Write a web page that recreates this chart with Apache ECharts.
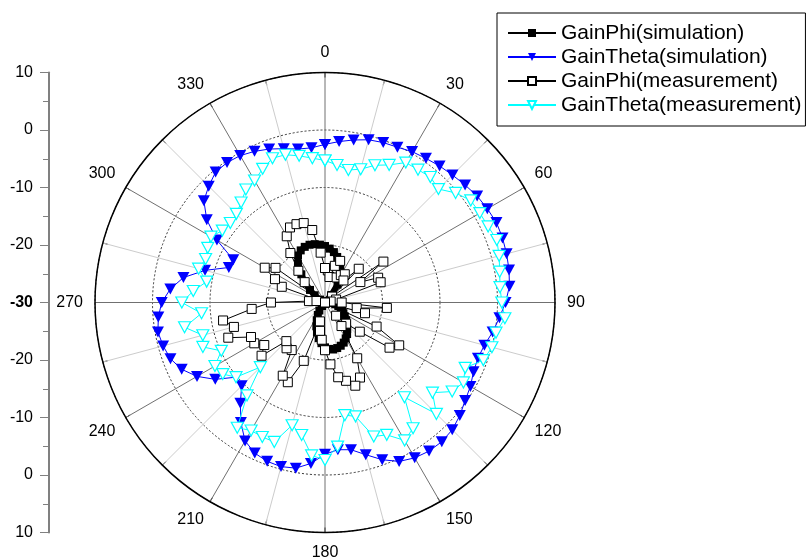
<!DOCTYPE html>
<html>
<head>
<meta charset="utf-8">
<script src="https://cdn.jsdelivr.net/npm/echarts/dist/echarts.min.js"></script>
<style>
html,body{margin:0;padding:0;background:#fff;}
#chart{width:812px;height:560px;}
</style>
</head>
<body>
<div id="chart"></div>
<script>
// angles (degrees), 5 degree steps
const angles = [0,5,10,15,20,25,30,35,40,45,50,55,60,65,70,75,80,85,90,95,100,105,110,115,120,125,130,135,140,145,150,155,160,165,170,175,180,185,190,195,200,205,210,215,220,225,230,235,240,245,250,255,260,265,270,275,280,285,290,295,300,305,310,315,320,325,330,335,340,345,350,355];

const seriesNames = ['GainPhi(simulation)','GainTheta(simulation)','GainPhi(measurement)','GainTheta(measurement)'];

const gainPhiSim = [-20.2,-20.6,-21.1,-21.8,-22.6,-23.7,-24.8,-26.2,-28.3,-30,-30,-30,-30,-30,-30,-30,-30,-30,-30,-29.5,-28.2,-27.6,-27.1,-26.7,-26.3,-25.8,-25.2,-24.6,-24.0,-23.3,-22.8,-22.3,-22.0,-21.8,-21.7,-21.9,-22.2,-22.9,-23.7,-24.6,-25.6,-26.6,-27.5,-28.3,-29.2,-30,-30,-30,-30,-30,-30,-30,-30,-30,-30,-30,-30,-30,-30,-30,-29.0,-27.8,-26.6,-25.0,-23.6,-21.8,-20.6,-20.0,-19.7,-19.6,-19.7,-19.9];

const gainThetaSim = [-2.5,-1.9,-1.3,-0.7,-0.4,-0.2,0.3,0.6,1.0,1.35,1.8,2.3,2.6,2.9,2.85,2.7,2.5,2.2,1.4,0.45,-0.4,-1.3,-1.7,-1.5,-0.8,-0.25,0.6,1.3,1.6,1.55,1.2,0.5,-0.9,-2.6,-4.0,-4.3,-3.6,-1.9,-0.75,-0.45,-0.6,-1.1,-2.2,-4.5,-7.1,-9.5,-9.8,-6.7,-4.3,-2.5,-1.4,-0.85,-0.5,-0.9,-1.6,-3.0,-5.0,-8.4,-12.2,-12.4,-8.3,-4.9,-2.5,-1.4,-0.4,-0.3,-0.5,-1.0,-1.6,-2.3,-2.9,-3.0];

const gainPhiMeas = [-24.0,-24.4,-25.5,-23.4,-22.3,-25.2,-24.5,-24.0,-25.0,-21.7,-28.4,-17.6,-22.9,-19.8,-19.7,-28.0,-29.0,-30,-27.1,-19.2,-24.4,-22.8,-30,-20.1,-15.1,-16.3,-22.1,-24.8,-27.0,-25.0,-18.8,-15.6,-14.6,-15.9,-16.8,-19.2,-21.7,-23.5,-25.0,-26.6,-19.2,-14.7,-15.3,-19.9,-19.6,-20.5,-15.6,-17.1,-15.8,-15.8,-12.1,-13.6,-12.0,-17.2,-20.6,-27.2,-28.5,-30,-22.0,-20.4,-17.9,-19.5,-30,-25.0,-22.8,-19.5,-16.7,-15.6,-15.5,-15.7,-17.2,-21.3];

const gainThetaMeas = [-5.3,-6.0,-6.6,-6.0,-4.6,-3.6,-1.9,-1.8,-1.5,-2.1,-0.35,0.95,1.1,1.3,1.8,1.35,0.85,0.55,0.75,1.4,0.2,0.05,-0.7,-3.1,-2.2,-3.0,-5.6,-2.6,-8.5,-3.3,-2.3,-4.6,-5.2,-9.5,-10.1,-4.85,-2.6,-3.3,-6.6,-7.9,-4.2,-4.2,-4.3,-3.4,-8.9,-14.1,-9.8,-8.3,-7.9,-10.1,-7.4,-8.0,-5.2,-8.45,-5.1,-7.0,-9.1,-7.25,-7.9,-7.5,-7.1,-8.2,-8.5,-8.2,-7.3,-6.0,-5.5,-4.35,-3.3,-3.4,-4.1,-4.8];

// tick labels
const angleLabels = [0,30,60,90,120,150,180,210,240,270,300,330];
const radiusTicks = [-30,-20,-10,0,10];
const leftAxisLabels = [10,0,-10,-20,-30,-20,-10,0,10];

function toPolar(vals){
  const d = angles.map((a,i)=>[vals[i], a]);
  d.push([vals[0], 360]);
  return d;
}

const chart = echarts.init(document.getElementById('chart'), null, {renderer:'canvas'});
const rMin = radiusTicks[0], rMax = radiusTicks[radiusTicks.length-1];

const option = {
  animation:false,
  backgroundColor:'#fff',
  textStyle:{fontFamily:'Liberation Sans, Arial, sans-serif'},
  legend:{
    orient:'vertical',
    left:497, top:13,
    data:seriesNames,
    itemWidth:48, itemHeight:10, itemGap:0,
    padding:[8,4,9,10],
    borderColor:'#000', borderWidth:1,
    textStyle:{fontSize:21, color:'#000', lineHeight:24, fontFamily:'Liberation Sans, Arial, sans-serif'},
    selectedMode:false
  },
  polar:{center:[325,302.5], radius:230},
  angleAxis:{
    type:'value', min:0, max:360, interval:15,
    startAngle:90, clockwise:true,
    axisLine:{show:true, lineStyle:{color:'#000', width:1.5}},
    axisTick:{show:true, inside:true, length:5, lineStyle:{color:'#000', width:1}},
    axisLabel:{
      show:true, margin:12, fontSize:16, color:'#000',
      formatter:function(v){ return (angleLabels.indexOf(v) >= 0) ? String(v) : ''; }
    },
    splitLine:{show:true, lineStyle:{color:['#707070','#cccccc'], width:1}}
  },
  radiusAxis:{
    type:'value', min:rMin, max:rMax, interval:10,
    axisLine:{show:false}, axisTick:{show:false}, axisLabel:{show:false},
    splitLine:{show:true, lineStyle:{color:'#333', width:1, type:[2,2]}}
  },
  grid:{left:49, top:72.5, width:1, height:460},
  xAxis:{type:'value', show:false, min:0, max:1},
  yAxis:{
    type:'value', min:-40, max:40, interval:10,
    axisLine:{show:true, lineStyle:{color:'#808080', width:2}},
    axisTick:{show:true, inside:false, length:9, lineStyle:{color:'#808080', width:1}},
    minorTick:{show:true, splitNumber:2, length:6, lineStyle:{color:'#808080', width:1}},
    splitLine:{show:false},
    axisLabel:{
      margin:16, fontSize:16, color:'#000',
      formatter:function(v){
        const idx = Math.round((40 - v)/10);
        const lab = leftAxisLabels[idx];
        return v === 0 ? '{b|' + lab + '}' : String(lab);
      },
      rich:{b:{fontWeight:'bold', fontSize:16, color:'#000'}}
    }
  },
  series:[
    {
      name:seriesNames[0], type:'line', coordinateSystem:'polar',
      data:toPolar(gainPhiSim),
      symbol:'rect', symbolSize:8,
      itemStyle:{color:'#000'},
      lineStyle:{color:'#000', width:6},
      z:2
    },
    {
      name:seriesNames[1], type:'line', coordinateSystem:'polar',
      data:toPolar(gainThetaSim),
      symbol:'triangle', symbolRotate:180, symbolSize:[12,11],
      itemStyle:{color:'#0000ff'},
      lineStyle:{color:'#0000ff', width:1},
      z:3
    },
    {
      name:seriesNames[2], type:'line', coordinateSystem:'polar',
      data:toPolar(gainPhiMeas),
      symbol:'rect', symbolSize:9,
      itemStyle:{color:'#fff', borderColor:'#000', borderWidth:1},
      lineStyle:{color:'#000', width:1},
      z:4
    },
    {
      name:seriesNames[3], type:'line', coordinateSystem:'polar',
      data:toPolar(gainThetaMeas),
      symbol:'triangle', symbolRotate:180, symbolSize:[12,11],
      itemStyle:{color:'#fff', borderColor:'#00ffff', borderWidth:1.2},
      lineStyle:{color:'#00ffff', width:1},
      z:5
    }
  ]
};
chart.setOption(option);
</script>
</body>
</html>
